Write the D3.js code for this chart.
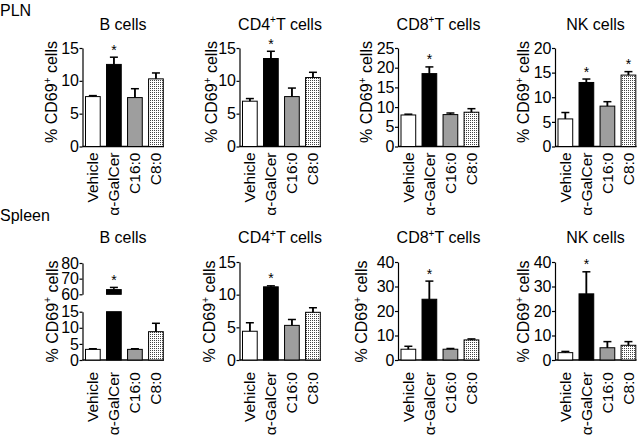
<!DOCTYPE html>
<html><head><meta charset="utf-8">
<script src="https://cdn.jsdelivr.net/npm/d3@7"></script>
<style>body{margin:0;background:#fff}svg{display:block}</style>
</head><body>
<svg id="c" width="640" height="436"></svg>
<script>
// ---- data ----
const categories = ["Vehicle", "α-GalCer", "C16:0", "C8:0"];
const tissues = ["PLN", "Spleen"];
const cellTitles = ["B cells", "CD4+T cells", "CD8+T cells", "NK cells"];
const yAxisLabel = "% CD69+ cells";

const plnMeans = [[7.6, 12.5, 7.45, 10.3], [6.9, 13.4, 7.6, 10.5], [8.0, 18.5, 8.1, 8.7], [5.6, 13.0, 8.2, 14.5]];
const plnErrors = [[0.15, 1.1, 1.35, 0.9], [0.4, 1.1, 1.3, 0.8], [0.2, 1.7, 0.4, 0.9], [1.3, 0.7, 0.9, 0.7]];
const plnSignificant = [[0, 1, 0, 0], [0, 1, 0, 0], [0, 1, 0, 0], [0, 1, 0, 1]];
const plnTicks = [[0, 5, 10, 15], [0, 5, 10, 15], [0, 5, 10, 15, 20, 25], [0, 5, 10, 15, 20]];

const spleenMeans = [[3.3, 63, 3.3, 8.8], [4.4, 11.2, 5.3, 7.3], [4.4, 24.8, 4.4, 8.2], [3.0, 27, 5.0, 6.0]];
const spleenErrors = [[0.2, 1.4, 0.2, 2.6], [1.3, 0.15, 0.9, 0.7], [1.2, 7.4, 0.3, 0.4], [0.5, 9, 2.5, 1.5]];
const spleenSignificant = [[0, 1, 0, 0], [0, 1, 0, 0], [0, 1, 0, 0], [0, 1, 0, 0]];
const spleenTicks = [[0, 5, 10, 15], [0, 5, 10, 15], [0, 10, 20, 30, 40], [0, 10, 20, 30, 40]];
const spleenBUpperTicks = [60, 70, 80];

// ---- layout ----
const FONT = "'Liberation Sans', Arial, Helvetica, sans-serif";
const axisX = [82.5, 239.5, 398, 555];
const rowLayout = [
  {y0: 146.5, y1: 48, titleY: 29.5, labelY: 92, catGap: 6, tissueY: 15.5},
  {y0: 360, y1: 262, titleY: 243, labelY: 311.5, catGap: 12, tissueY: 220.5}
];
const ylabOffset = [[-25.8, -22.5, -26, -26], [-25, -24.5, -31, -26]];
const fills = ["#ffffff", "#000000", "#9e9e9e", "url(#dots)"];

const svg = d3.select("#c").style("font-family", FONT);
const defs = svg.append("defs");
const pat = defs.append("pattern").attr("id", "dots").attr("patternUnits", "userSpaceOnUse")
  .attr("width", 2).attr("height", 2);
pat.append("rect").attr("width", 2).attr("height", 2).attr("fill", "#fff");
pat.append("rect").attr("width", 1).attr("height", 1).attr("fill", "#444");

function supText(sel, str, big, small) {
  const parts = str.split("+");
  sel.text(null);
  sel.append("tspan").text(parts[0]);
  sel.append("tspan").attr("font-size", small).attr("dy", -big * 0.38).text("+");
  sel.append("tspan").attr("dy", big * 0.38).text(parts[1]);
}

const rowsData = [
  {means: plnMeans, errs: plnErrors, sig: plnSignificant, ticks: plnTicks},
  {means: spleenMeans, errs: spleenErrors, sig: spleenSignificant, ticks: spleenTicks}
];

rowsData.forEach((rd, r) => {
  const L = rowLayout[r];
  svg.append("text").attr("x", 0).attr("y", L.tissueY).attr("font-size", 16).text(tissues[r]);

  cellTitles.forEach((title, p) => {
    const x0 = axisX[p];
    const g = svg.append("g");
    const xb = d3.scaleBand().domain(categories).range([x0 + 3, x0 + 80.8]).paddingInner(0.3).paddingOuter(0);
    const broken = (r === 1 && p === 0);
    const ticks = rd.ticks[p];
    const ymax = ticks[ticks.length - 1];
    let yLow, yUp = null;
    if (broken) {
      yLow = d3.scaleLinear().domain([0, 15]).range([L.y0, 311.7]);
      yUp = d3.scaleLinear().domain([60, 80]).range([294.3, 263]);
    } else {
      yLow = d3.scaleLinear().domain([0, ymax]).range([L.y0, L.y1]);
    }

    // title
    const t = svg.append("text").attr("x", x0 + 40.5).attr("y", L.titleY)
      .attr("text-anchor", "middle").attr("font-size", 16);
    if (title.includes("+")) supText(t, title, 16, 10); else t.text(title);

    // y axis label
    const yl = svg.append("text")
      .attr("transform", `translate(${x0 + ylabOffset[r][p]},${L.labelY}) rotate(-90)`)
      .attr("text-anchor", "middle").attr("font-size", 16);
    supText(yl, yAxisLabel, 16, 10);

    // axes
    const styleAxis = a => {
      a.select(".domain").attr("stroke", "#000").attr("stroke-width", 1.2);
      a.selectAll(".tick line").attr("stroke", "#000").attr("stroke-width", 1.2);
      a.selectAll(".tick text").attr("font-size", 16).attr("font-family", FONT).attr("fill", "#000");
    };
    g.append("g").attr("transform", `translate(${x0},0)`)
      .call(d3.axisLeft(yLow).tickValues(ticks).tickSize(3).tickSizeOuter(0).tickPadding(0.5).tickFormat(d3.format("d")))
      .call(styleAxis);
    if (broken) {
      g.append("g").attr("transform", `translate(${x0},0)`)
        .call(d3.axisLeft(yUp).tickValues(spleenBUpperTicks).tickSize(3).tickSizeOuter(0).tickPadding(0.5).tickFormat(d3.format("d")))
        .call(styleAxis);
    }
    // baseline
    g.append("line").attr("x1", x0).attr("x2", x0 + 81.5).attr("y1", L.y0).attr("y2", L.y0)
      .attr("stroke", "#000").attr("stroke-width", 1.4);

    categories.forEach((c, i) => {
      const v = rd.means[p][i], e = rd.errs[p][i];
      const bx = xb(c), bw = xb.bandwidth(), cx = bx + bw / 2;
      let topY, errY;
      if (broken && v > 15) {
        g.append("rect").attr("x", bx).attr("y", yLow(15)).attr("width", bw).attr("height", yLow(0) - yLow(15))
          .attr("fill", fills[i]).attr("stroke", "#000").attr("stroke-width", 1);
        g.append("rect").attr("x", bx).attr("y", yUp(v)).attr("width", bw).attr("height", yUp(60) - yUp(v))
          .attr("fill", fills[i]).attr("stroke", "#000").attr("stroke-width", 1);
        topY = yUp(v); errY = yUp(v + e);
      } else {
        topY = yLow(v); errY = yLow(v + e);
        g.append("line").attr("x1", cx).attr("x2", cx).attr("y1", topY).attr("y2", errY)
          .attr("stroke", "#000").attr("stroke-width", 1.5);
        g.append("rect").attr("x", bx).attr("y", topY).attr("width", bw).attr("height", yLow(0) - topY)
          .attr("fill", fills[i]).attr("stroke", "#000").attr("stroke-width", 1);
      }
      g.append("line").attr("x1", cx).attr("x2", cx).attr("y1", topY).attr("y2", errY)
        .attr("stroke", "#000").attr("stroke-width", 1.5);
      g.append("line").attr("x1", cx - 4).attr("x2", cx + 4).attr("y1", errY).attr("y2", errY)
        .attr("stroke", "#000").attr("stroke-width", 1.5);
      if (rd.sig[p][i]) {
        g.append("text").attr("x", cx).attr("y", errY - 2.5).attr("text-anchor", "middle")
          .attr("font-size", 14).text("*");
      }
      // category label
      g.append("text")
        .attr("transform", `translate(${cx},${L.y0 + L.catGap}) rotate(-90)`)
        .attr("dy", "0.35em").attr("text-anchor", "end").attr("font-size", 15.5).text(c);
    });
  });
});
</script>
</body></html>
